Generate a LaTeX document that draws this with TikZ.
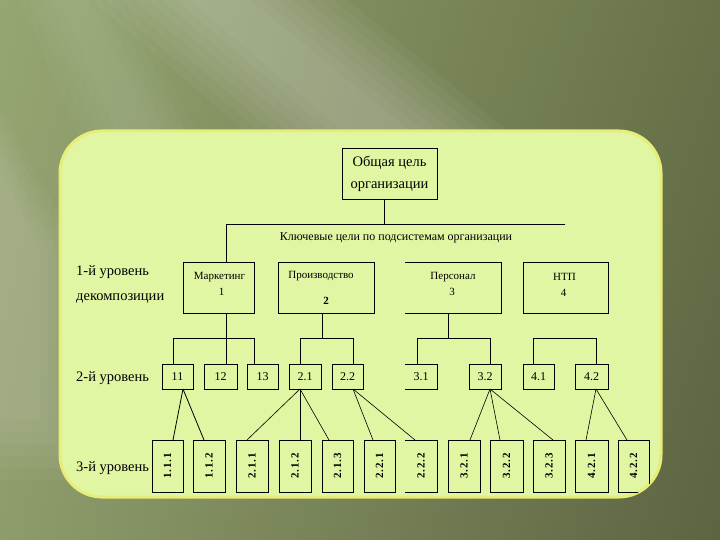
\documentclass[tikz,border=0pt]{standalone}
\usepackage{fontspec}
\setmainfont{Liberation Serif}
\usetikzlibrary{fit,calc,shadings}
\definecolor{bgUL}{HTML}{96A672}
\definecolor{bgUR}{HTML}{687249}
\definecolor{bgLL}{HTML}{8E9C6B}
\definecolor{bgLR}{HTML}{5C6441}
\definecolor{panel}{HTML}{E1F6A2}
\definecolor{glow}{HTML}{E6EE78}
\begin{document}
\begin{tikzpicture}[x=1pt,y=-1pt,
  bx/.style={draw, line width=0.8pt, inner sep=0pt, outer sep=0pt},
  nb/.style={inner sep=0pt, outer sep=0pt},
  ln/.style={line width=0.8pt},
  tx/.style={inner sep=0pt, font=\fontsize{11}{13}\selectfont},
  lv/.style={inner sep=0pt, anchor=west, align=left, font=\fontsize{14.5}{25}\selectfont},
  t2/.style={inner sep=0pt, font=\fontsize{12}{14}\selectfont},
  t3/.style={inner sep=0pt, rotate=90, font=\bfseries\fontsize{11}{12}\selectfont\addfontfeature{LetterSpace=8}}]
\useasboundingbox (0,0) rectangle (720,540);
% background
\shade[upper left=bgUL, upper right=bgUR, lower left=bgLL, lower right=bgLR] (0,0) rectangle (720,540);
\foreach \i in {0,...,7}
  \fill[white, opacity=0.035] (190-14*\i,0) -- (250+14*\i,0) -- (470+14*\i,180) -- (400-14*\i,180) -- cycle;
\foreach \i in {0,...,5}
  \fill[white, opacity=0.03] (0,170-12*\i) -- (0,420+12*\i) -- (40+8*\i,420+12*\i) -- (40+8*\i,250) -- cycle;
\foreach \i in {0,...,4}
  \fill[white, opacity=0.025] (60-10*\i,0) -- (90+10*\i,0) -- (160+10*\i,140) -- (120-10*\i,140) -- cycle;
% panel
\path[fill=panel, draw=glow, line width=3pt, rounded corners=42pt] (60,131) rectangle (661,497);
\begin{scope}
\clip[rounded corners=42pt] (60,131) rectangle (661,497);
% top
\node[bx, fit={(342,148)(437,199)}] (top) {};
\node[inner sep=0pt, align=center, font=\fontsize{14.5}{22}\selectfont] (topt) at (top.center) {Общая цель\\организации};
\coordinate (j0) at (384,224);
\coordinate (bl) at (226,224);
\coordinate (br) at (565,224);
\node[inner sep=0pt, font=\fontsize{12}{14}\selectfont] (key) at (396,238) {Ключевые цели по подсистемам организации};
% level 1
\node[bx, fit={(183,262)(254,313)}] (mk) {};
\node[bx, fit={(278,262)(374,313)}] (pr) {};
\node[nb, fit={(405,262)(501,313)}] (ps) {};
\node[bx, fit={(523,262)(608,313)}] (nt) {};
\draw[ln] (ps.north west) -- (ps.north east) -- (ps.south east) -- (ps.south west);
\node[tx] (mkt) at ($(mk.north)+(1,15)$) {Маркетинг};
\node[tx] (mkn) at ($(mk.north)+(3,30)$) {1};
\node[tx] (prt) at ($(pr.north)+(-5,14)$) {Производство};
\node[tx, font=\bfseries\fontsize{11}{13}\selectfont] (prn) at ($(pr.north)+(0,39)$) {2};
\node[tx] (pst) at ($(ps.north)+(0,15)$) {Персонал};
\node[tx] (psn) at ($(ps.north)+(-1,30)$) {3};
\node[tx] (ntt) at ($(nt.north)+(-1,15)$) {НТП};
\node[tx] (ntn) at ($(nt.north)+(-2,31)$) {4};
% level labels
\node[lv] (l1) at (76,284) {1-й уровень\\декомпозиции};
\node[lv] (l2) at (76,378) {2-й уровень};
\node[lv] (l3) at (76,468) {3-й уровень};
% level 2
\node[bx, fit={(162,364)(193,389)}] (a11) {};
\node[bx, fit={(204,364)(237,389)}] (a12) {};
\node[bx, fit={(247,364)(278,389)}] (a13) {};
\node[bx, fit={(289,364)(321,389)}] (a21) {};
\node[bx, fit={(332,364)(363,389)}] (a22) {};
\node[nb, fit={(405,364)(437,389)}] (a31) {};
\node[bx, fit={(469,364)(501,389)}] (a32) {};
\node[bx, fit={(523,364)(554,389)}] (a41) {};
\node[bx, fit={(575,364)(608,389)}] (a42) {};
\draw[ln] (a31.north west) -- (a31.north east) -- (a31.south east) -- (a31.south west);
\node[t2] at (a11.center) {11};
\node[t2] at (a12.center) {12};
\node[t2] at (a13.center) {13};
\node[t2] at (a21.center) {2.1};
\node[t2] at (a22.center) {2.2};
\node[t2] at (a31.center) {3.1};
\node[t2] at (a32.center) {3.2};
\node[t2] at (a41.center) {4.1};
\node[t2] at (a42.center) {4.2};
% level 3
\node[bx, fit={(152,440)(183,492)}] (b111) {};
\node[bx, fit={(193,440)(225,492)}] (b112) {};
\node[bx, fit={(236,440)(268,492)}] (b211) {};
\node[bx, fit={(279,440)(311,492)}] (b212) {};
\node[bx, fit={(322,440)(353,492)}] (b213) {};
\node[bx, fit={(364,440)(395,492)}] (b221) {};
\node[nb, fit={(405,440)(437,492)}] (b222) {};
\node[bx, fit={(448,440)(480,492)}] (b321) {};
\node[bx, fit={(490,440)(523,492)}] (b322) {};
\node[bx, fit={(533,440)(565,492)}] (b323) {};
\node[bx, fit={(575,440)(608,492)}] (b421) {};
\node[bx, fit={(618,440)(649,492)}] (b422) {};
\draw[ln] (b222.north west) -- (b222.north east) -- (b222.south east) -- (b222.south west);
\foreach \n/\t in {b111/1.1.1, b112/1.1.2, b211/2.1.1, b212/2.1.2, b213/2.1.3, b221/2.2.1, b222/2.2.2, b321/3.2.1, b322/3.2.2, b323/3.2.3, b421/4.2.1, b422/4.2.2}
  \node[t3] at (\n.center) {\t};
% connectors top
\draw[ln] (j0 |- top.south) -- (j0);
\draw[ln] (br) -- (bl) -- (bl |- mk.north);
% level1 -> level2 buses
\coordinate (bus) at (0,338);
\coordinate (vm) at ($(mk.south)+(7.5,0)$);
\coordinate (d11) at ($(a11.north)+(-4.5,0)$);
\coordinate (d12) at ($(a12.north)+(5.5,0)$);
\coordinate (d13) at ($(a13.north)+(-8.5,0)$);
\draw[ln] (vm) -- (vm |- bus);
\draw[ln] (d11) -- (d11 |- bus) -- (d13 |- bus) -- (d13);
\draw[ln] (d12 |- bus) -- (d12);
\coordinate (vp) at ($(pr.south)+(-4,0)$);
\coordinate (d21) at ($(a21.north)+(-5,0)$);
\coordinate (d22) at ($(a22.north)+(5.5,0)$);
\draw[ln] (vp) -- (vp |- bus);
\draw[ln] (d21) -- (d21 |- bus) -- (d22 |- bus) -- (d22);
\coordinate (vs) at ($(ps.south)+(-5,0)$);
\coordinate (d31) at ($(a31.north)+(-4,0)$);
\coordinate (d32) at ($(a32.north)+(5,0)$);
\draw[ln] (vs) -- (vs |- bus);
\draw[ln] (d31) -- (d31 |- bus) -- (d32 |- bus) -- (d32);
\coordinate (d41) at ($(a41.north)+(-5.5,0)$);
\coordinate (d42) at ($(a42.north)+(4.5,0)$);
\draw[ln] (d41) -- (d41 |- bus) -- (d42 |- bus) -- (d42);
% level2 -> level3
\draw[ln] ($(a11.south)+(5.5,0)$) -- ($(b111.north)+(5.5,0)$);
\draw[ln] ($(a11.south)+(5.5,0)$) -- ($(b112.north)+(-5,0)$);
\draw[line width=0.6pt] ($(a21.south)+(-5,0)$) -- ($(b211.north)+(-5,0)$);
\draw[line width=0.6pt] ($(a21.south)+(-5,0)$) -- ($(b212.north)+(5,0)$);
\draw[line width=0.6pt] ($(a21.south)+(-5,0)$) -- ($(b213.north)+(-8.5,0)$);
\draw[line width=0.6pt] ($(a22.south)+(5.5,0)$) -- ($(b221.north)+(-6.5,0)$);
\draw[line width=0.6pt] ($(a22.south)+(5.5,0)$) -- ($(b222.north)+(-6,0)$);
\draw[line width=0.6pt] ($(a32.south)+(5,0)$) -- ($(b321.north)+(6,0)$);
\draw[line width=0.6pt] ($(a32.south)+(5,0)$) -- ($(b322.north)+(-6.5,0)$);
\draw[line width=0.6pt] ($(a32.south)+(5,0)$) -- ($(b323.north)+(4,0)$);
\draw[line width=0.6pt] ($(a42.south)+(4.5,0)$) -- ($(b421.north)+(-5.5,0)$);
\draw[line width=0.6pt] ($(a42.south)+(4.5,0)$) -- ($(b422.north)+(-6.5,0)$);
\end{scope}
\end{tikzpicture}
\end{document}
